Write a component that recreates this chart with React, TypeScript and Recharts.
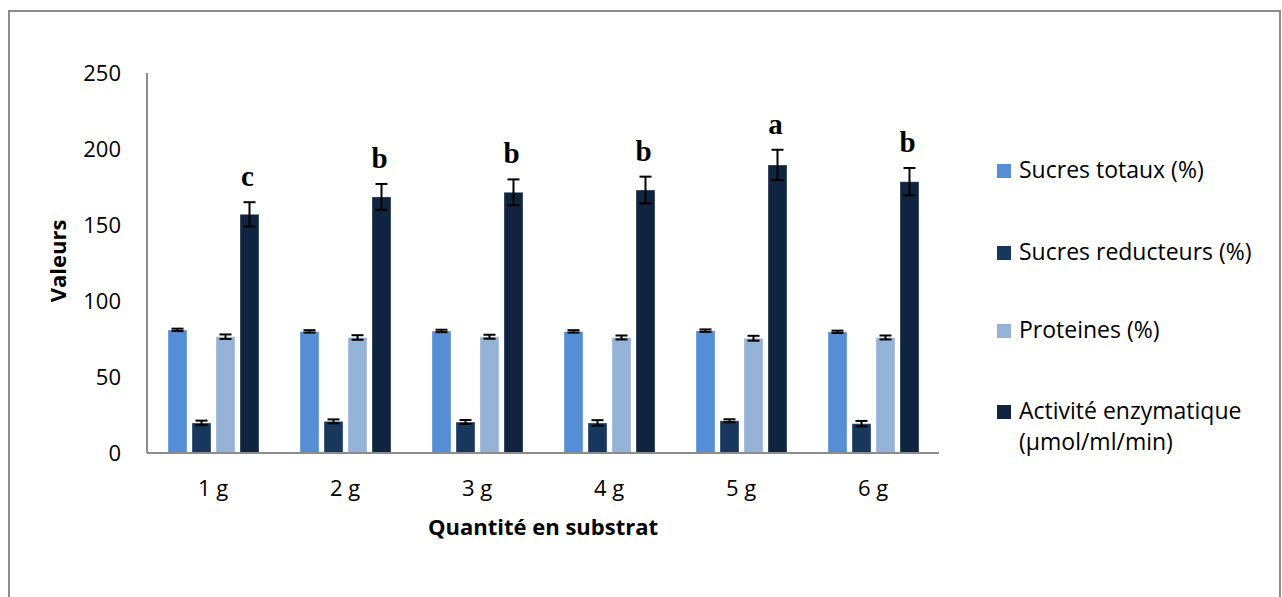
import React from 'react';
import { BarChart, Bar, XAxis, YAxis, ErrorBar } from 'recharts';

const categories = ['1 g', '2 g', '3 g', '4 g', '5 g', '6 g'];
const sucresTotaux = [81, 80, 80.3, 80, 80.5, 79.7];
const sucresReducteurs = [19.8, 20.8, 20.4, 19.8, 21.2, 19.3];
const proteines = [76.5, 76, 76.5, 76, 75.5, 76];
const activite = [157, 168.5, 171.5, 173, 189.5, 178.5];
const errTotaux = [0.8, 0.8, 0.8, 0.8, 0.8, 0.8];
const errReducteurs = [1.5, 1.3, 1.3, 1.8, 1.0, 1.8];
const errProteines = [1.5, 1.5, 1.3, 1.3, 1.6, 1.3];
const errActivite = [8, 8.5, 8.5, 8.8, 10, 9];
const letters = ['c', 'b', 'b', 'b', 'a', 'b'];
const yTicks = [0, 50, 100, 150, 200, 250];

const seriesNames = [
  'Sucres totaux (%)',
  'Sucres reducteurs (%)',
  'Proteines (%)',
  'Activité enzymatique (µmol/ml/min)',
];
const seriesColors = ['#558ed5', '#17375e', '#95b3d7', '#10243f'];

const data = categories.map((c, i) => ({
  cat: c,
  tot: sucresTotaux[i],
  red: sucresReducteurs[i],
  prot: proteines[i],
  act: activite[i],
  eTot: errTotaux[i],
  eRed: errReducteurs[i],
  eProt: errProteines[i],
  eAct: errActivite[i],
}));

const FONT = '"Open Sans", sans-serif';

const renderLetter = (props: any) => {
  const { x, y, width, height, index } = props;
  const v = activite[index];
  const ppu = height / v;
  const errTop = y - errActivite[index] * ppu;
  return (
    <text
      x={x + width / 2 - 2}
      y={errTop - 16}
      textAnchor="middle"
      fontFamily='"Liberation Serif", "Times New Roman", serif'
      fontWeight="bold"
      fontSize={29}
      fill="#000"
    >
      {letters[index]}
    </text>
  );
};

const renderYLabel = (props: any) => {
  const vb = props.viewBox || {};
  const cx = vb.x - 30;
  const cy = vb.y + vb.height / 2 - 2;
  return (
    <text
      x={cx}
      y={cy}
      transform={`rotate(-90, ${cx}, ${cy})`}
      textAnchor="middle"
      dominantBaseline="central"
      fontFamily={FONT}
      fontWeight="bold"
      fontSize={22}
      fill="#000"
    >
      Valeurs
    </text>
  );
};

const legendTops = [154, 236, 314, 395];

export default function App() {
  return (
    <div style={{ position: 'absolute', left: 0, top: 0, width: 1282, height: 597, overflow: 'hidden', background: '#fff' }}>
      <div
        style={{
          position: 'absolute',
          left: 8,
          top: 10,
          width: 1273,
          height: 620,
          border: '2px solid #8c8c8c',
          boxSizing: 'border-box',
        }}
      />
      <div style={{ position: 'absolute', left: 0, top: 0 }}>
        <BarChart
          width={1282}
          height={597}
          data={data}
          margin={{ top: 73, right: 343, left: 87, bottom: 114 }}
          barSize={19}
          barGap={5}
        >
          <XAxis
            dataKey="cat"
            height={30}
            axisLine={{ stroke: '#8c8c8c', strokeWidth: 2 }}
            tickLine={false}
            tickSize={0}
            tickMargin={27}
            tick={{ fill: '#000', fontSize: 22, fontFamily: FONT }}
            label={{
              value: 'Quantité en substrat',
              position: 'insideBottom',
              offset: -52,
              fill: '#000',
              fontSize: 22,
              fontWeight: 'bold',
              fontFamily: FONT,
            }}
          />
          <YAxis
            width={60}
            domain={[0, 250]}
            ticks={yTicks}
            interval={0}
            axisLine={{ stroke: '#8c8c8c', strokeWidth: 2 }}
            tickLine={false}
            tickSize={0}
            tickMargin={26}
            tick={{ fill: '#000', fontSize: 22, fontFamily: FONT }}
            label={renderYLabel}
          />
          <Bar dataKey="tot" fill={seriesColors[0]} stroke="#ffffff" strokeOpacity={0.35} isAnimationActive={false}>
            <ErrorBar dataKey="eTot" width={6} strokeWidth={2} stroke="#000" direction="y" />
          </Bar>
          <Bar dataKey="red" fill={seriesColors[1]} stroke="#ffffff" strokeOpacity={0.35} isAnimationActive={false}>
            <ErrorBar dataKey="eRed" width={6} strokeWidth={2} stroke="#000" direction="y" />
          </Bar>
          <Bar dataKey="prot" fill={seriesColors[2]} stroke="#ffffff" strokeOpacity={0.35} isAnimationActive={false}>
            <ErrorBar dataKey="eProt" width={6} strokeWidth={2} stroke="#000" direction="y" />
          </Bar>
          <Bar dataKey="act" fill={seriesColors[3]} stroke="#ffffff" strokeOpacity={0.35} isAnimationActive={false} label={renderLetter}>
            <ErrorBar dataKey="eAct" width={6} strokeWidth={2} stroke="#000" direction="y" />
          </Bar>
        </BarChart>
      </div>
      {seriesNames.map((name, i) => (
        <div
          key={name}
          style={{
            position: 'absolute',
            left: 997,
            top: legendTops[i],
            width: 275,
            display: 'flex',
            alignItems: 'flex-start',
            fontFamily: FONT,
            fontSize: 23,
            lineHeight: '31px',
            color: '#000',
          }}
        >
          <div style={{ width: 14, height: 14, background: seriesColors[i], marginTop: 10, marginRight: 8, flexShrink: 0 }} />
          <div style={{ width: 250 }}>{name}</div>
        </div>
      ))}
    </div>
  );
}
